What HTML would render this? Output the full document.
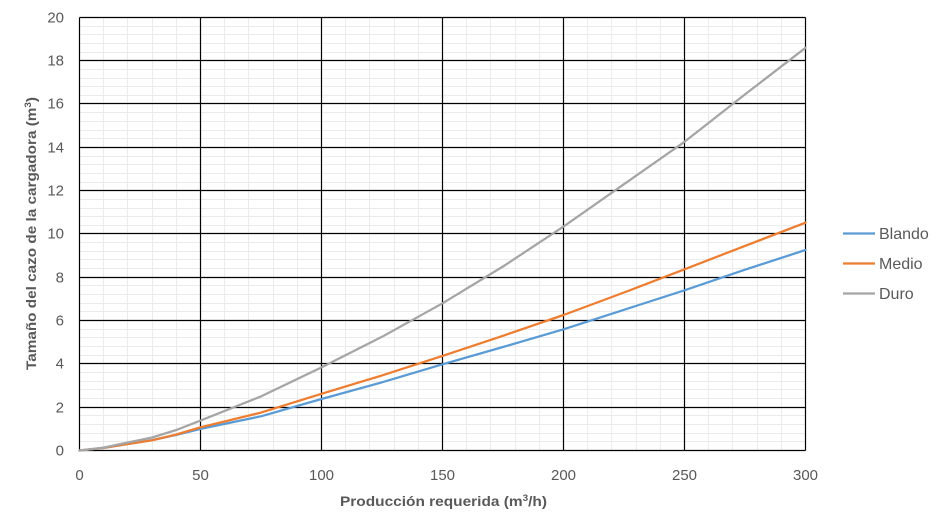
<!DOCTYPE html>
<html><head><meta charset="utf-8"><style>
html,body{margin:0;padding:0;background:#fff;}
svg{display:block;font-family:"Liberation Sans",Arial,sans-serif;}
</style></head><body>
<svg width="941" height="522" viewBox="0 0 941 522" xmlns="http://www.w3.org/2000/svg">
<rect width="941" height="522" fill="#fff"/>
<!-- minor grid -->
<path stroke="#EBEBEB" stroke-width="1" fill="none" d="
M103.5 17.5V450.5M127.5 17.5V450.5M152.5 17.5V450.5M176.5 17.5V450.5
M224.5 17.5V450.5M248.5 17.5V450.5M273.5 17.5V450.5M297.5 17.5V450.5
M345.5 17.5V450.5M369.5 17.5V450.5M394.5 17.5V450.5M418.5 17.5V450.5
M466.5 17.5V450.5M490.5 17.5V450.5M515.5 17.5V450.5M539.5 17.5V450.5
M587.5 17.5V450.5M611.5 17.5V450.5M636.5 17.5V450.5M660.5 17.5V450.5
M708.5 17.5V450.5M732.5 17.5V450.5M757.5 17.5V450.5M781.5 17.5V450.5
M79.5 26.5H805.5M79.5 34.5H805.5M79.5 43.5H805.5M79.5 52.5H805.5
M79.5 69.5H805.5M79.5 78.5H805.5M79.5 86.5H805.5M79.5 95.5H805.5
M79.5 112.5H805.5M79.5 121.5H805.5M79.5 130.5H805.5M79.5 138.5H805.5
M79.5 156.5H805.5M79.5 164.5H805.5M79.5 173.5H805.5M79.5 182.5H805.5
M79.5 199.5H805.5M79.5 208.5H805.5M79.5 216.5H805.5M79.5 225.5H805.5
M79.5 242.5H805.5M79.5 251.5H805.5M79.5 259.5H805.5M79.5 268.5H805.5
M79.5 285.5H805.5M79.5 294.5H805.5M79.5 303.5H805.5M79.5 311.5H805.5
M79.5 329.5H805.5M79.5 337.5H805.5M79.5 346.5H805.5M79.5 355.5H805.5
M79.5 372.5H805.5M79.5 381.5H805.5M79.5 389.5H805.5M79.5 398.5H805.5
M79.5 415.5H805.5M79.5 424.5H805.5M79.5 433.5H805.5M79.5 441.5H805.5"/>
<!-- major grid -->
<path stroke="#000" stroke-width="1.2" fill="none" d="
M79.5 17.5H805.5M79.5 60.5H805.5M79.5 103.5H805.5M79.5 147.5H805.5M79.5 190.5H805.5
M79.5 233.5H805.5M79.5 277.5H805.5M79.5 320.5H805.5M79.5 363.5H805.5M79.5 407.5H805.5M79.5 450.5H805.5
M79.5 17.5V450.5M200.5 17.5V450.5M321.5 17.5V450.5M442.5 17.5V450.5M563.5 17.5V450.5M684.5 17.5V450.5M805.5 17.5V450.5"/>
<!-- series -->
<g fill="none" stroke-width="2.25" stroke-linejoin="round" stroke-linecap="round">
<polyline stroke="#5B9BD5" points="79.5,450.5 103.7,447.9 127.9,444.0 152.1,440.1 176.3,434.9 200.5,428.9 261,416.3 321.5,399.0 382,382.3 442.5,364.3 503,347.0 563.5,329.3 624,309.8 684.5,290.3 745,269.7 805.5,250.0"/>
<polyline stroke="#ED7D31" points="79.5,450.5 103.7,447.9 127.9,444.0 152.1,440.3 176.3,434.5 200.5,427.3 261,412.6 321.5,393.8 382,375.4 442.5,355.9 503,335.8 563.5,315.0 624,292.5 684.5,269.3 745,245.9 805.5,222.7"/>
<polyline stroke="#A5A5A5" points="79.5,450.5 103.7,447.6 127.9,442.5 152.1,437.5 176.3,430.0 200.5,420.6 261,396.4 321.5,367.4 382,336.8 442.5,303.3 503,266.5 563.5,226.6 624,184.2 684.5,141.8 745,94.4 805.5,47.8"/>
</g>
<!-- y tick labels -->
<g fill="#595959" font-size="15" text-anchor="end">
<text x="64" y="22.5">20</text>
<text x="64" y="65.5">18</text>
<text x="64" y="108.5">16</text>
<text x="64" y="152.5">14</text>
<text x="64" y="195.5">12</text>
<text x="64" y="238.5">10</text>
<text x="64" y="282.5">8</text>
<text x="64" y="325.5">6</text>
<text x="64" y="368.5">4</text>
<text x="64" y="412.5">2</text>
<text x="64" y="455.5">0</text>
</g>
<!-- x tick labels -->
<g fill="#595959" font-size="15" text-anchor="middle">
<text x="79.5" y="480">0</text>
<text x="200.5" y="480">50</text>
<text x="321.5" y="480">100</text>
<text x="442.5" y="480">150</text>
<text x="563.5" y="480">200</text>
<text x="684.5" y="480">250</text>
<text x="805.5" y="480">300</text>
</g>
<!-- axis titles -->
<text x="340" y="506" fill="#595959" font-size="14" font-weight="bold" textLength="207" lengthAdjust="spacingAndGlyphs">Producción requerida (m<tspan font-size="9" dy="-5">3</tspan><tspan dy="5">/h)</tspan></text>
<text transform="translate(36,370) rotate(-90)" x="0" y="0" fill="#595959" font-size="14" font-weight="bold" textLength="273" lengthAdjust="spacingAndGlyphs">Tamaño del cazo de la cargadora (m<tspan font-size="9" dy="-5">3</tspan><tspan dy="5">)</tspan></text>
<!-- legend -->
<g stroke-width="2.25">
<line x1="843" y1="233.5" x2="875" y2="233.5" stroke="#5B9BD5"/>
<line x1="843" y1="263.5" x2="875" y2="263.5" stroke="#ED7D31"/>
<line x1="843" y1="293.5" x2="875" y2="293.5" stroke="#A5A5A5"/>
</g>
<g fill="#595959" font-size="16">
<text x="879" y="239">Blando</text>
<text x="879" y="269">Medio</text>
<text x="879" y="299">Duro</text>
</g>
</svg>
</body></html>
